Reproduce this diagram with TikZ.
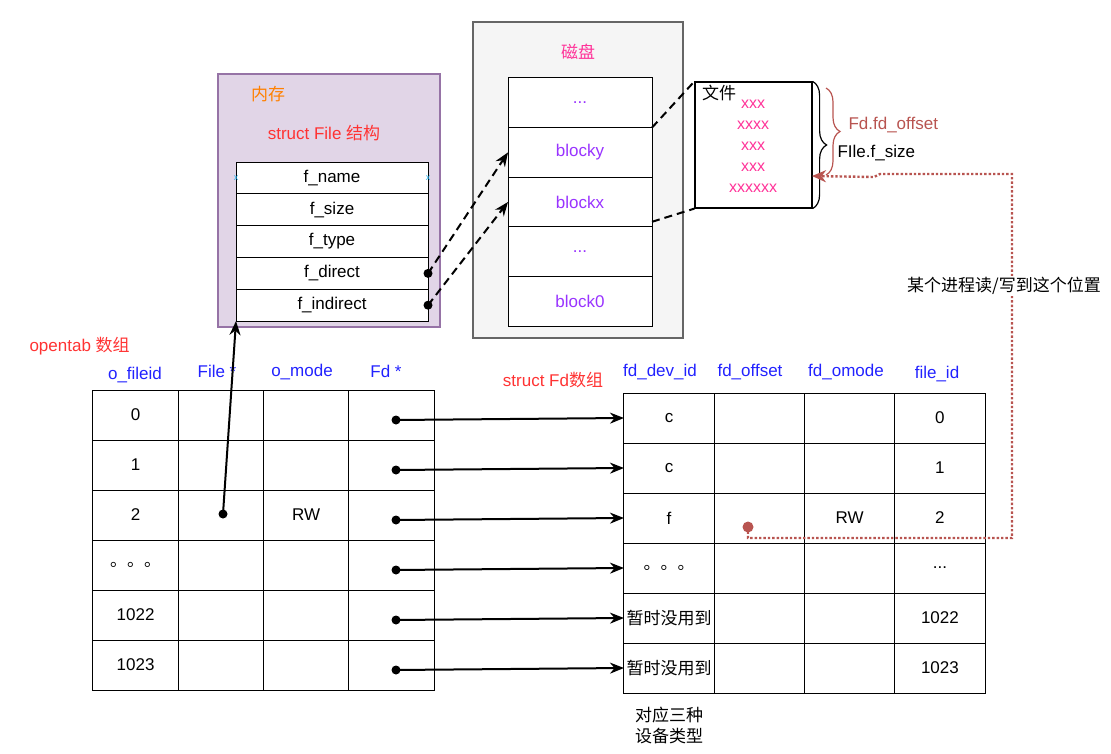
\documentclass[tikz,border=0pt]{standalone}
\usepackage{fontspec}
\setmainfont{Liberation Sans}
\newfontfamily\cjk{Noto Sans CJK SC}
\usepackage{xcolor}
\usepackage{tikz}
\usetikzlibrary{arrows.meta, positioning, decorations.pathreplacing}
\definecolor{memfill}{HTML}{E1D5E7}
\definecolor{memline}{HTML}{9673A6}
\definecolor{diskfill}{HTML}{F5F5F5}
\definecolor{diskline}{HTML}{666666}
\definecolor{hdrblue}{HTML}{2222FF}
\definecolor{lblred}{HTML}{FF3333}
\definecolor{lblorange}{HTML}{FF8000}
\definecolor{lblpink}{HTML}{FF3399}
\definecolor{blkpurple}{HTML}{9933FF}
\definecolor{rwred}{HTML}{B85450}
\definecolor{markblue}{HTML}{29B6F2}
\newcommand{\threedots}{...}

\begin{document}
\begin{tikzpicture}[x=1pt, y=-1pt,
  >=Stealth,
  base/.style={font=\fontsize{17}{20}\selectfont},
  cell/.style={base, draw, line width=1pt, inner sep=0pt, outer sep=0pt,
    minimum width=85.25pt, minimum height=50pt},
  fdcell/.style={cell, minimum width=90.25pt},
  field/.style={cell, fill=white, minimum width=192pt, minimum height=31.8pt},
  block/.style={cell, fill=white, text=blkpurple, minimum width=144pt, minimum height=49.6pt},
  hdr/.style={base, text=hdrblue},
  ptr/.style={circle, fill, inner sep=0pt, minimum size=9pt},
  link/.style={->, line width=2pt, >={Stealth[length=14pt, width=11pt]}},
  dlink/.style={link, dash pattern=on 8pt off 5pt},
  dline/.style={line width=2pt, dash pattern=on 8pt off 5pt},
  rwlink/.style={->, rwred, line width=2.4pt, dash pattern=on 2.4pt off 2pt,
    >={Stealth[length=14pt, width=12pt]}},
]
\useasboundingbox (0,0) rectangle (1111,754);

% memory with struct File
\node[draw=memline, fill=memfill, line width=1.2pt, inner sep=0pt,
  minimum width=222pt, minimum height=253pt] (mem) at (329,200.5) {};
\node[base, text=lblorange] (memlbl) at (268,94) {\cjk 内存};
\node[base, text=lblred] (filelbl) at (324,133) {struct File {\cjk 结构}};
\node[field] (fld1) at (332,178) {f\_name};
\node[field] (fld2) at (332,209.8) {f\_size};
\node[field] (fld3) at (332,241.6) {f\_type};
\node[field] (fld4) at (332,273.4) {f\_direct};
\node[field] (fld5) at (332,305.2) {f\_indirect};
\node[text=markblue, font=\small, inner sep=0pt] (markL) at (fld1.west) {x};
\node[text=markblue, font=\small, inner sep=0pt] (markR) at (fld1.east) {x};
\node[ptr] (dirptr) at (fld4.east) {};
\node[ptr] (indptr) at (fld5.east) {};

% disk blocks
\node[draw=diskline, fill=diskfill, line width=1.2pt, inner sep=0pt,
  minimum width=210pt, minimum height=316pt] (disk) at (578,180) {};
\node[base, text=lblpink] (disklbl) at (578,52) {\cjk 磁盘};
\node[block] (blk1) at (580,102.8) {\threedots};
\node[block] (blk2) at (580,152.4) {blocky};
\node[block] (blk3) at (580,202) {blockx};
\node[block] (blk4) at (580,251.6) {\threedots};
\node[block] (blk5) at (580,301.2) {block0};

% file contents
\node[draw, fill=white, line width=1.2pt, inner sep=0pt,
  minimum width=117pt, minimum height=126pt] (filebox) at (753.5,145) {};
\node[base, inner sep=0pt] (filetag) at (719,93) {\cjk 文件};
\node[base, text=lblpink, align=center, font=\fontsize{16}{21}\selectfont] (filedata)
  at (753,146) {xxx\\xxxx\\xxx\\xxx\\xxxxxx};
\draw[line width=1.2pt, decorate, decoration={brace, amplitude=14pt}]
  (filebox.north east) -- (filebox.south east);
\draw[rwred, line width=1.2pt, decorate, decoration={brace, amplitude=14pt}]
  (826,88) -- (826,175);
\node[base, text=rwred, anchor=west] (offlbl) at (845,125) {Fd.fd\_offset};
\node[base, anchor=west] (sizelbl) at (834,153) {FIle.f\_size};

% pointers into the disk
\draw[dlink] (dirptr.center) -- (blk2.west);
\draw[dlink] (indptr.center) -- (blk3.west);
\draw[dline] (blk1.south east) -- (filebox.north west);
\draw[dline] ([yshift=5pt]blk3.south east) -- (filebox.south west);

% opentab table
\node[base, text=lblred, anchor=west] (otlbl) at (26,346) {opentab {\cjk 数组}};
\node[hdr] (oth1) at (135,375) {o\_fileid};
\node[hdr] (oth2) at (217,371) {File *};
\node[hdr] (oth3) at (302,372) {o\_mode};
\node[hdr] (oth4) at (386,371) {Fd *};
\foreach \r/\id/\md in {0/0/{},1/1/{},2/2/RW,3/{\cjk 。。。}/{},4/1022/{},5/1023/{}} {
  \node[cell] (ot\r a) at (135.6,415+50*\r) {\id};
  \node[cell] (ot\r b) at (220.9,415+50*\r) {};
  \node[cell] (ot\r c) at (306.1,415+50*\r) {\md};
  \node[cell] (ot\r d) at (391.4,415+50*\r) {};
}

% struct Fd table
\node[base, text=lblred] (fdlbl) at (553,380) {struct Fd{\cjk 数组}};
\node[hdr] (fdh1) at (660,372) {fd\_dev\_id};
\node[hdr] (fdh2) at (750,372) {fd\_offset};
\node[hdr] (fdh3) at (846,372) {fd\_omode};
\node[hdr] (fdh4) at (937,374) {file\_id};
\foreach \r/\dev/\md/\fid in {0/c/{}/0,1/c/{}/1,2/f/RW/2,3/{\cjk 。。。}/{}/\threedots,
    4/{\cjk 暂时没用到}/{}/1022,5/{\cjk 暂时没用到}/{}/1023} {
  \node[fdcell] (fd\r a) at (669.1,418+50*\r) {\dev};
  \node[fdcell] (fd\r b) at (759.4,418+50*\r) {};
  \node[fdcell] (fd\r c) at (849.6,418+50*\r) {\md};
  \node[fdcell] (fd\r d) at (939.9,418+50*\r) {\fid};
}
\node[base, align=center, font=\cjk\fontsize{17}{21}\selectfont] (devlbl) at (669,725) {对应三种\\设备类型};

% Fd * pointers
\foreach \r in {0,1,2,3,4,5} {
  \node[ptr] (fdp\r) at (396,420+50*\r) {};
  \draw[link] (fdp\r.center) -- (fd\r a.west);
}

% File * pointer
\node[ptr] (fileptr) at (223,514) {};
\draw[link] (fileptr.center) -- (fld5.south west);

% read / write position
\node[circle, fill=rwred, inner sep=0pt, minimum size=11pt] (rwdot) at (748,527) {};
\coordinate (rwpos) at (812,176);
\draw[rwlink] (rwdot.center) -- ++(0,11) -| (1012,174) -- (880,174) -- (874,177) -- (rwpos);
\node[base, fill=white, inner sep=1pt] (rwlbl) at (1004,286) {\cjk 某个进程读/写到这个位置};

\end{tikzpicture}
\end{document}
